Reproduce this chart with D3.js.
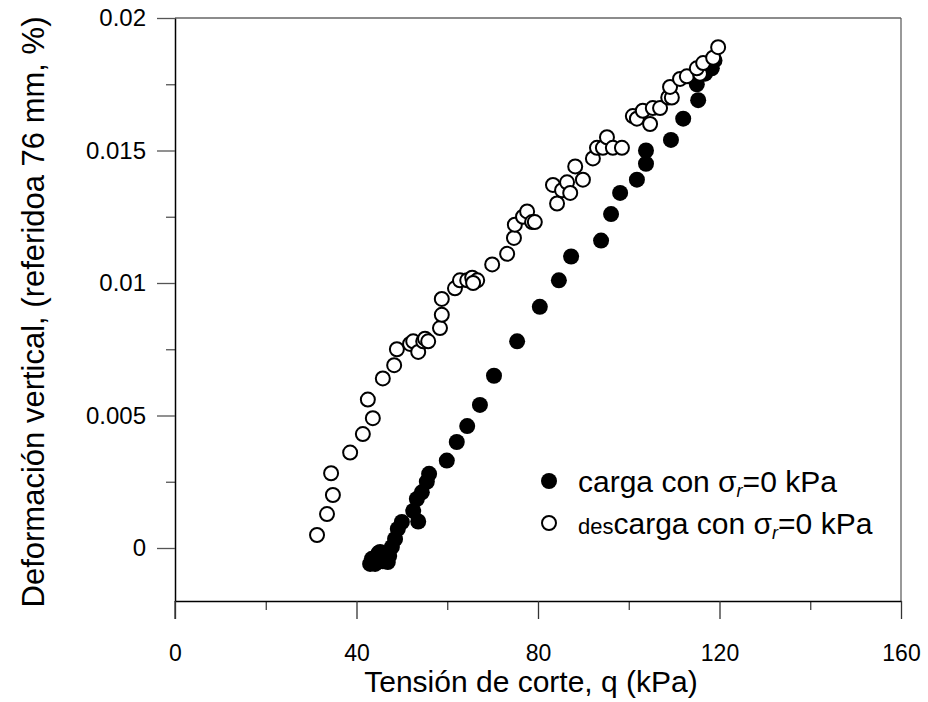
<!DOCTYPE html>
<html>
<head>
<meta charset="utf-8">
<script src="https://cdn.jsdelivr.net/npm/d3@7"></script>
<style>
  html, body { margin: 0; padding: 0; background: #fff; }
  svg { display: block; font-family: "Liberation Sans", Arial, sans-serif; }
</style>
</head>
<body>
<svg id="chart" width="928" height="702"></svg>
<script>
// Loading branch: shear stress q (kPa) vs vertical strain (%)
const cargaQ = [43.0, 43.4, 44.1, 44.5, 44.8, 45.2, 45.8, 46.3, 46.5, 46.9, 47.2, 47.8, 48.5, 49.1, 50.0,
  52.5, 53.6, 53.3, 54.4, 55.5, 56.0, 59.9, 62.1, 64.4, 67.2, 70.3, 75.4, 80.4, 84.6, 87.3,
  93.9, 96.1, 98.1, 101.8, 103.8, 103.8, 109.3, 112.0, 115.3, 115.0, 116.8, 118.3, 118.9];
const cargaDef = [-0.0006, -0.00041, -0.0006, -0.0004, -0.0002, -0.00015, -0.0005, -0.00034, -0.0002, -0.00053, -0.0003, 0.00004, 0.00034, 0.00072, 0.00098,
  0.0014, 0.0010, 0.00185, 0.0021, 0.0025, 0.0028, 0.0033, 0.0040, 0.0046, 0.0054, 0.0065, 0.0078, 0.0091, 0.0101, 0.0110,
  0.0116, 0.0126, 0.0134, 0.0139, 0.0145, 0.0150, 0.0154, 0.0162, 0.0169, 0.0175, 0.0179, 0.0181, 0.0184];

// Unloading branch
const descargaQ = [31.3, 33.5, 34.8, 34.4, 38.6, 41.4, 43.6, 42.5, 45.8, 48.3, 48.9, 51.8, 52.5, 53.6, 54.7, 55.1, 55.8,
  58.4, 58.8, 58.8, 61.7, 62.8, 64.4, 65.5, 66.6, 65.7, 69.9, 73.2, 74.7, 74.9, 76.7, 77.6, 78.7, 79.3,
  84.2, 83.3, 85.3, 86.4, 87.1, 88.2, 89.9, 92.1, 93.0, 94.3, 95.2, 96.5, 98.5,
  100.9, 101.8, 103.1, 104.7, 105.3, 106.9, 108.7, 109.5, 109.1, 111.3, 112.8, 115.7, 115.0, 116.4, 118.6, 119.7];
const descargaDef = [0.00049, 0.00128, 0.0020, 0.00282, 0.0036, 0.0043, 0.0049, 0.0056, 0.0064, 0.0069, 0.0075, 0.0077, 0.0078, 0.0074, 0.0078, 0.0079, 0.0078,
  0.0083, 0.0088, 0.0094, 0.0098, 0.0101, 0.0101, 0.0102, 0.0101, 0.0100, 0.0107, 0.0111, 0.0117, 0.0122, 0.0125, 0.0127, 0.0123, 0.0123,
  0.0130, 0.0137, 0.0135, 0.0138, 0.0134, 0.0144, 0.0139, 0.0147, 0.0151, 0.0151, 0.0155, 0.0151, 0.0151,
  0.0163, 0.0162, 0.0165, 0.0160, 0.0166, 0.0166, 0.0170, 0.0170, 0.0174, 0.0177, 0.0178, 0.0179, 0.0181, 0.0183, 0.0185, 0.0189];

const xMajorTicks = [0, 40, 80, 120, 160];
const xMinorTicks = [20, 60, 100, 140];
const yMajorTicks = [0, 0.005, 0.01, 0.015, 0.02];
const yMinorTicks = [0.0025, 0.0075, 0.0125, 0.0175];
const yTickLabels = ["0", "0.005", "0.01", "0.015", "0.02"];

const svg = d3.select("#chart");
const plotL = 175, plotR = 901, plotT = 18, plotB = 601;

const x = d3.scaleLinear().domain([0, 160]).range([plotL, plotR]);
const y = d3.scaleLinear().domain([-0.002, 0.02]).range([plotB, plotT]);

// frame: top and right edges
svg.append("line").attr("x1", plotL).attr("x2", plotR).attr("y1", plotT).attr("y2", plotT)
  .attr("stroke", "#666").attr("stroke-width", 1.5);
svg.append("line").attr("x1", plotR).attr("x2", plotR).attr("y1", plotT).attr("y2", plotB)
  .attr("stroke", "#555").attr("stroke-width", 1.2);

// minor ticks
svg.append("g").attr("transform", `translate(0,${plotB})`)
  .call(d3.axisBottom(x).tickValues(xMinorTicks).tickSize(9).tickFormat(""))
  .call(g => g.select(".domain").remove())
  .call(g => g.selectAll("line").attr("stroke", "#333").attr("stroke-width", 1.2));
svg.append("g").attr("transform", `translate(${plotL},0)`)
  .call(d3.axisLeft(y).tickValues(yMinorTicks).tickSize(9).tickFormat(""))
  .call(g => g.select(".domain").remove())
  .call(g => g.selectAll("line").attr("stroke", "#555").attr("stroke-width", 1.3));

// major axes
const xAxis = svg.append("g").attr("transform", `translate(0,${plotB})`)
  .call(d3.axisBottom(x).tickValues(xMajorTicks).tickSize(18).tickPadding(26).tickSizeOuter(0)
    .tickFormat(d3.format("d")));
xAxis.select(".domain").attr("stroke", "#000").attr("stroke-width", 1.5);
xAxis.selectAll(".tick line").attr("stroke", "#333").attr("stroke-width", 1.3);
xAxis.selectAll(".tick text").attr("font-size", 23).attr("fill", "#000")
  .attr("font-family", "Liberation Sans, Arial, sans-serif");

const yAxis = svg.append("g").attr("transform", `translate(${plotL},0)`)
  .call(d3.axisLeft(y).tickValues(yMajorTicks).tickSize(18).tickPadding(11).tickSizeOuter(0)
    .tickFormat((d, i) => yTickLabels[i]));
yAxis.select(".domain").attr("stroke", "#000").attr("stroke-width", 1.5);
yAxis.selectAll(".tick line").attr("stroke", "#555").attr("stroke-width", 1.3);
yAxis.selectAll(".tick text").attr("font-size", 24).attr("fill", "#000")
  .attr("font-family", "Liberation Sans, Arial, sans-serif");

// left axis continues down to the x-axis zero tick
svg.append("line").attr("x1", plotL).attr("x2", plotL).attr("y1", plotB).attr("y2", plotB + 18)
  .attr("stroke", "#333").attr("stroke-width", 1.3);

// axis titles
svg.append("text").attr("x", 531).attr("y", 692)
  .attr("text-anchor", "middle").attr("font-size", 30).attr("fill", "#000")
  .text("Tensión de corte, q (kPa)");
svg.append("text").attr("transform", `translate(44,312) rotate(-90)`)
  .attr("text-anchor", "middle").attr("font-size", 31).attr("fill", "#000")
  .text("Deformación vertical, (referidoa 76 mm, %)");

const carga = cargaQ.map((q, i) => ({ q, d: cargaDef[i] }));
const descarga = descargaQ.map((q, i) => ({ q, d: descargaDef[i] }));

svg.append("g").selectAll("circle").data(carga).join("circle")
  .attr("cx", d => x(d.q)).attr("cy", d => y(d.d)).attr("r", 8)
  .attr("fill", "#000");

svg.append("g").selectAll("circle").data(descarga).join("circle")
  .attr("cx", d => x(d.q)).attr("cy", d => y(d.d)).attr("r", 7)
  .attr("fill", "#fff").attr("stroke", "#000").attr("stroke-width", 2);

// legend
const legend = svg.append("g");
legend.append("circle").attr("cx", 549).attr("cy", 481).attr("r", 8).attr("fill", "#000");
legend.append("circle").attr("cx", 549).attr("cy", 523).attr("r", 7)
  .attr("fill", "#fff").attr("stroke", "#000").attr("stroke-width", 2);

function legendLabel(yPos, prefix) {
  const t = legend.append("text").attr("x", 578).attr("y", yPos).attr("font-size", 30).attr("fill", "#000");
  if (prefix) t.append("tspan").attr("font-size", 22).text(prefix);
  t.append("tspan").text("carga con σ");
  t.append("tspan").attr("font-size", 18).attr("font-style", "italic").attr("dy", 5).text("r");
  t.append("tspan").attr("dy", -5).text("=0 kPa");
}
legendLabel(492, null);
legendLabel(534, "des");
</script>
</body>
</html>
